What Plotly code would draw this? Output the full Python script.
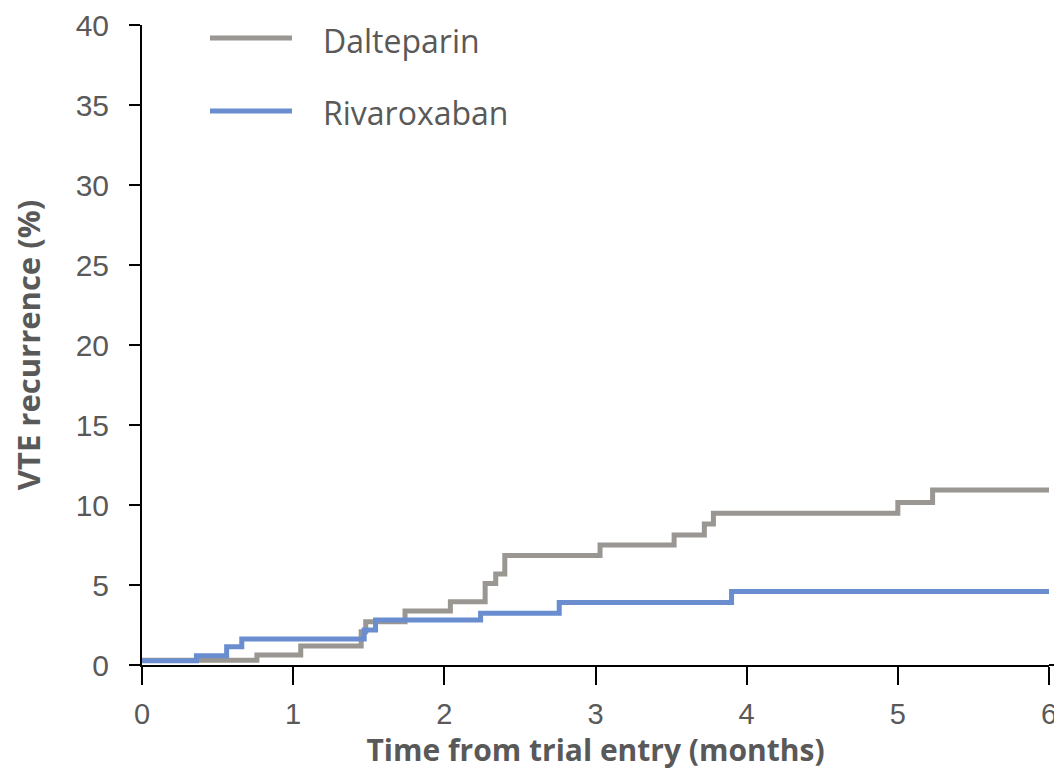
import plotly.graph_objects as go

# Dalteparin (gray) step curve
dal_t = [0, 0.76, 1.05, 1.45, 1.48, 1.74, 2.04, 2.27, 2.34, 2.40, 3.03, 3.52, 3.72, 3.78, 5.00, 5.23, 6.0]
dal_v = [0.3, 0.62, 1.19, 2.08, 2.7, 3.37, 3.96, 5.1, 5.69, 6.85, 7.5, 8.12, 8.81, 9.48, 10.15, 10.94, 10.94]

# Rivaroxaban (blue) step curve
riv_t = [0, 0.36, 0.56, 0.66, 1.47, 1.545, 2.24, 2.76, 3.90, 6.0]
riv_v = [0.27, 0.58, 1.14, 1.62, 2.19, 2.81, 3.23, 3.9, 4.6, 4.6]

x_ticks = [0, 1, 2, 3, 4, 5, 6]
y_ticks = [0, 5, 10, 15, 20, 25, 30, 35, 40]

GRAY = "#9a9691"
BLUE = "#6a8dd0"
TXT = "#595959"
FONT = "Open Sans"
TICKFONT = "Liberation Sans"

fig = go.Figure()
fig.add_trace(go.Scatter(x=dal_t, y=dal_v, mode="lines", line=dict(shape="hv", color=GRAY, width=5),
                         name="Dalteparin", showlegend=False, cliponaxis=False))
fig.add_trace(go.Scatter(x=riv_t, y=riv_v, mode="lines", line=dict(shape="hv", color=BLUE, width=5),
                         name="Rivaroxaban", showlegend=False, cliponaxis=False))

# manual legend
L, W, T, H = 142, 907, 25, 640
def px(x): return (x - L) / W
def py(y): return (T + H - y) / H
legend_items = [("Dalteparin", GRAY, 38), ("Rivaroxaban", BLUE, 111)]
for name, col, ypix in legend_items:
    fig.add_shape(type="line", xref="paper", yref="paper", x0=px(210), x1=px(292), y0=py(ypix), y1=py(ypix),
                  line=dict(color=col, width=5))
    fig.add_annotation(xref="paper", yref="paper", x=px(321), y=py(ypix + 2), text=name, showarrow=False,
                       xanchor="left", yanchor="middle", font=dict(family=FONT, size=32, color=TXT))

# x-axis line continues to the right edge
fig.add_shape(type="line", xref="paper", yref="paper", x0=1, x1=px(1056), y0=0, y1=0,
              line=dict(color="black", width=2))

fig.update_layout(
    width=1054, height=770,
    margin=dict(l=142, r=5, t=25, b=105, autoexpand=False),
    paper_bgcolor="white", plot_bgcolor="white",
    font=dict(family=FONT, color=TXT),
    xaxis=dict(range=[0, 6], tickvals=x_ticks, ticks="outside", ticklen=18, tickwidth=2, tickcolor="black",
               showline=True, linecolor="black", linewidth=2, showgrid=False, zeroline=False,
               automargin=False, ticklabeloverflow="allow", ticklabelstandoff=4,
               tickfont=dict(family=TICKFONT, size=29, color=TXT),
               title=dict(text="<b>Time from trial entry (months)</b>", standoff=12,
                          font=dict(family=FONT, size=30, color=TXT))),
    yaxis=dict(range=[0, 40], tickvals=y_ticks, ticks="outside", ticklen=11, tickwidth=2, tickcolor="black",
               showline=True, linecolor="black", linewidth=2, showgrid=False, zeroline=False,
               automargin=False, ticklabelstandoff=14,
               tickfont=dict(family=TICKFONT, size=30, color=TXT),
               title=dict(text="<b>VTE recurrence (%)</b>", standoff=26,
                          font=dict(family=FONT, size=31, color=TXT))),
)

fig.write_html("out.html")
